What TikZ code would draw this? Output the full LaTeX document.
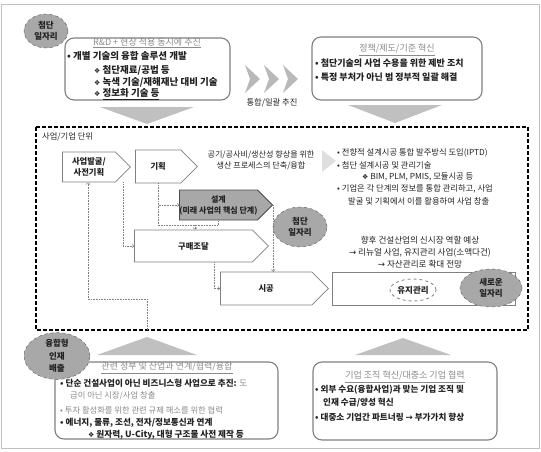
\documentclass[tikz,border=0pt]{standalone}
\usepackage{fontspec}
\setmainfont{Noto Sans CJK KR}
\newfontfamily\symfont{DejaVu Sans}
\usetikzlibrary{shapes.geometric,shapes.symbols}
\definecolor{jobgray}{HTML}{A8A8A8}
\definecolor{linegray}{HTML}{808080}
\definecolor{txtgray}{HTML}{8A8A8A}
\definecolor{trigray}{HTML}{C0C0C0}
\definecolor{inkdark}{HTML}{222222}
\newcommand{\dia}{{\symfont\fontsize{7}{9}\selectfont ❖}}
\newcommand{\arr}{{\symfont →}}
\begin{document}
\begin{tikzpicture}[x=1pt,y=-1pt,font=\fontsize{8.3}{10}\selectfont,
  infobox/.style={draw=linegray, line width=1.1pt, rounded corners=9pt, fill=white},
  stage/.style={signal, signal to=east, draw=linegray, line width=.8pt, fill=white, inner sep=0pt, anchor=west, align=center, text=inkdark, font=\bfseries\fontsize{8.3}{11}\selectfont},
  job/.style={ellipse, fill=jobgray, draw=gray!70!black, dashed, inner sep=0pt, align=center, text=inkdark, font=\bfseries\fontsize{8.5}{11}\selectfont},
  txt/.style={anchor=west, inner sep=0pt, text=inkdark},
  bold/.style={txt, font=\bfseries\fontsize{#1}{10}\selectfont},
  bold/.default=9,
  head/.style={inner sep=0pt, text=txtgray, font=\fontsize{9}{10}\selectfont},
  flow/.style={draw=gray, densely dotted, line width=.6pt, ->}]
\useasboundingbox (0,0) rectangle (541,452);
\draw[gray!50] (1.5,4.5) rectangle (539,448);
% top row
\node[infobox, minimum width=165, minimum height=62] (rdbox) at (147.5,69){};
\node[job, minimum width=44, minimum height=34] (topjob) at (46,31){첨단\\일자리};
\node[head] (rd0) at (147,43){\underline{R\&D + 현장 적용 동시에 추진}};
\node[bold=9.5] (rd1) at (67,56){• 개별 기술의 융합 솔루션 개발};
\node[bold=9.5] (rd2) at (94,70){\dia\ 첨단재료/공법 등};
\node[bold=9.5] (rd3) at (94,82){\dia\ 녹색 기술/재해재난 대비 기술};
\node[bold=9.5] (rd4) at (94,94){\dia\ \underline{정보화 기술 등}};
\foreach \cx in {245,264,283}
  \fill[gray!55] (\cx,65) -- (\cx+15,79) -- (\cx,93) -- (\cx+5,79) -- cycle;
\node[inner sep=0pt, text=inkdark] (joint) at (272,103){통합/일괄 추진};
\node[infobox, minimum width=170, minimum height=63] (polbox) at (397,68.5){};
\node[head] (pol0) at (397,50){\underline{정책/제도/기준 혁신}};
\node[bold] (pol1) at (315,63){• 첨단기술의 사업 수용을 위한 제반 조치};
\node[bold] (pol2) at (315,77){• 특정 부처가 아닌 범 정부적 일괄 해결};
\fill[trigray] (100,107) -- (194,107) -- (147,124) -- cycle;
\fill[trigray] (348,105) -- (442,105) -- (395,123) -- cycle;
% business unit
\draw[line width=1.3pt, dash pattern=on 4pt off 2pt] (36,127) rectangle (528,330);
\node[txt] (unit) at (42,137){사업/기업 단위};
\node[stage, minimum width=68, minimum height=30] (find) at (62,167){사업발굴/\\사전기획};
\node[stage, minimum width=62, minimum height=33] (plan) at (135,166.5){기획};
\node[stage, minimum width=89, minimum height=30, fill=jobgray, draw=gray!60!black, font=\bfseries\fontsize{8}{11}\selectfont] (design) at (179,205){설계\\(미래 사업의 핵심 단계)};
\node[stage, minimum width=134, minimum height=32] (buy) at (134,246){구매조달};
\node[stage, minimum width=108, minimum height=33] (build) at (220,288.5){시공};
\node[draw=linegray, line width=.8pt, fill=white, minimum width=183, minimum height=33] (keep) at (423.5,288.5){};
\node[ellipse, draw=gray, dashed, line width=.8pt, inner sep=0pt, minimum width=46, minimum height=22, font=\bfseries\fontsize{8.5}{10}\selectfont, text=inkdark] (keepin) at (413,290){유지관리};
\node[job, minimum width=62, minimum height=38] (newjob) at (491,288){새로운\\일자리};
\node[job, minimum width=54, minimum height=40] (midjob) at (300,227){첨단\\일자리};
\node[inner sep=0pt, align=center, text=inkdark, font=\fontsize{8.1}{11}\selectfont] (proc) at (261,160){공기/공사비/생산성 향상을 위한\\생산 프로세스의 단축/융합};
\fill[gray!25] (322,150) -- (336,161) -- (322,172) -- cycle;
\node[txt] (ip1) at (337,153){• 전향적 설계시공 통합 발주방식 도입(IPTD)};
\node[txt] (ip2) at (337,165){• 첨단 설계시공 및 관리기술};
\node[txt] (ip3) at (362,177){\dia\ BIM, PLM, PMIS, 모듈시공 등};
\node[txt] (ip4) at (337,189){• 기업은 각 단계의 정보를 통합 관리하고, 사업};
\node[txt] (ip5) at (348,201){발굴 및 기획에서 이를 활용하여 사업 창출};
\node[inner sep=0pt, align=center, text=inkdark, font=\fontsize{8.6}{12}\selectfont] (future) at (420,252){향후 건설산업의 신시장 역할 예상\\\arr\ 리뉴얼 사업, 유지관리 사업(소액다건)\\\arr\ 자산관리로 확대 전망};
% process links
\draw[flow] ([xshift=23pt]plan.south west) |- (design.west);
\draw[flow, -] ([xshift=23pt]plan.south west) |- ([xshift=39pt,yshift=-5pt]design.south west) -- ([xshift=39pt]design.south west);
\coordinate (j1) at (195,225);
\draw[flow] (j1) -- (j1 |- buy.north);
\draw[flow] ([xshift=61pt]find.south west) |- (buy.west);
\draw[flow] (design.east) -- (design.east |- build.north);
\draw[flow] ([xshift=80pt]buy.south west) |- (build.west);
\coordinate (fb) at (147,330);
\draw[flow] (fb) -- ++(0,-31) -| ([xshift=26pt]find.south west);
% bottom row
\fill[trigray] (97,355) -- (197,355) -- (147,337) -- cycle;
\fill[trigray] (355,355) -- (451,355) -- (403,338) -- cycle;
\node[infobox, minimum width=223, minimum height=77] (netbox) at (166.5,400.5){};
\node[job, minimum width=66, minimum height=42, font=\bfseries\fontsize{8.5}{12.5}\selectfont] (fusion) at (57,356){융합형\\인재\\배출};
\node[head] (net0) at (167,368){\underline{관련 정부 및 산업과 연계/협력/융합}};
\node[bold=8.6] (net1) at (60,383){• 단순 건설사업이 아닌 비즈니스형 사업으로 추진: {\mdseries\color{txtgray}도}};
\node[txt, text=txtgray] (net2) at (70,396){급이 아닌 시장/사업 창출};
\node[txt, text=txtgray] (net3) at (60,410){• 투자 활성화를 위한 관련 규제 해소를 위한 협력};
\node[bold=8.6] (net4) at (60,423){• 에너지, 물류, 조선, 전자/정보통신과 연계};
\node[bold=8.6] (net5) at (88,435){\dia\ 원자력, U-City, 대형 구조물 사전 제작 등};
\node[infobox, minimum width=184, minimum height=78] (orgbox) at (405,401){};
\node[head] (org0) at (405,377){\underline{기업 조직 혁신/대중소 기업 협력}};
\node[bold=8.6] (org1) at (315,390){• 외부 수요(융합사업)과 맞는 기업 조직 및};
\node[bold=8.6] (org2) at (323,403){인재 수급/양성 혁신};
\node[bold=8.6] (org3) at (315,417){• 대중소 기업간 파트너링 \arr\ 부가가치 향상};
\end{tikzpicture}
\end{document}
